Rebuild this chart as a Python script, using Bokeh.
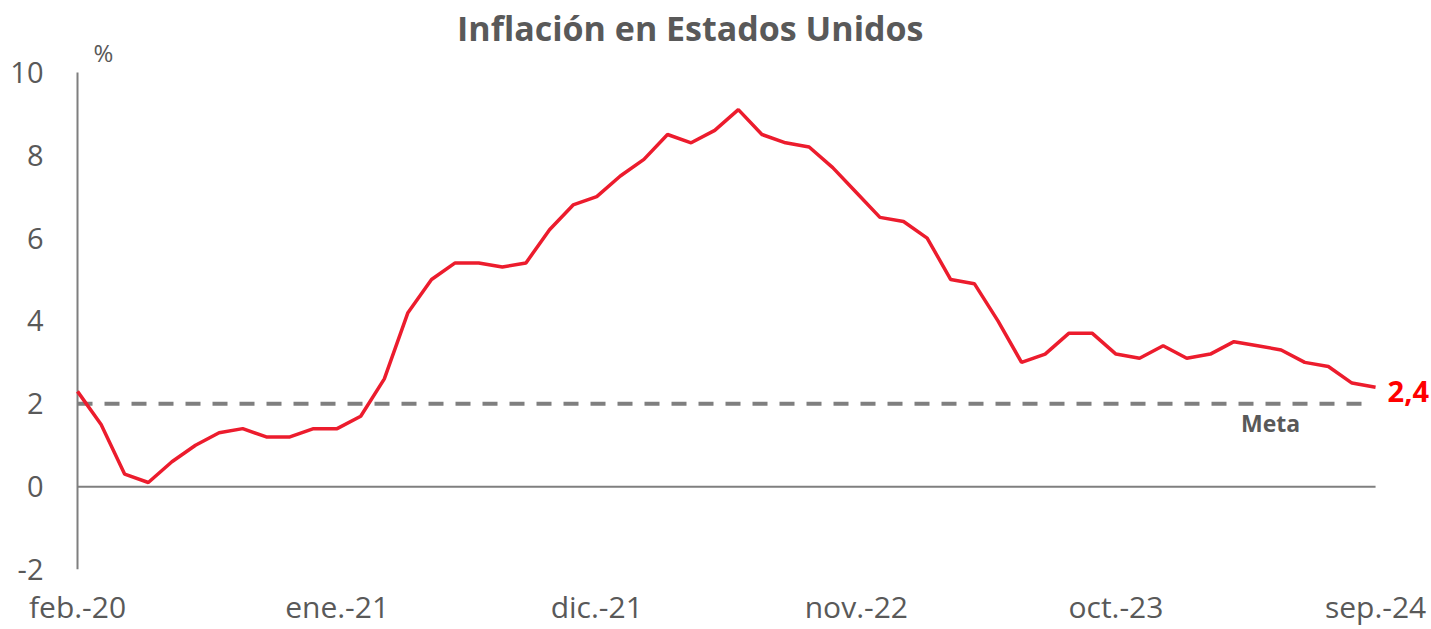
from bokeh.plotting import figure
from bokeh.models import Range1d, FixedTicker, Label, LinearAxis
from bokeh.embed import file_html
from bokeh.resources import INLINE

months = list(range(56))
inflation = [2.3, 1.5, 0.3, 0.1, 0.6, 1.0, 1.3, 1.4, 1.2, 1.2, 1.4,
             1.4, 1.7, 2.6, 4.2, 5.0, 5.4, 5.4, 5.3, 5.4, 6.2, 6.8, 7.0,
             7.5, 7.9, 8.5, 8.3, 8.6, 9.1, 8.5, 8.3, 8.2, 7.7, 7.1, 6.5,
             6.4, 6.0, 5.0, 4.9, 4.0, 3.0, 3.2, 3.7, 3.7, 3.2, 3.1, 3.4,
             3.1, 3.2, 3.5, 3.4, 3.3, 3.0, 2.9, 2.5, 2.4]
meta_value = 2.0
tick_positions = [0, 11, 22, 33, 44, 55]
tick_labels = ["feb.-20", "ene.-21", "dic.-21", "nov.-22", "oct.-23", "sep.-24"]
y_ticks = [-2, 0, 2, 4, 6, 8, 10]
y_min, y_max = -2, 10
title_text = "Inflación en  Estados Unidos"

GREY = "#595959"
AXGREY = "#7f7f7f"
FONT = "Open Sans"

p = figure(width=1431, height=629, output_backend="svg", toolbar_location=None,
           title=None,
           x_range=Range1d(-0.085, 57.37), y_range=Range1d(-2, 11.735),
           x_axis_location=None, y_axis_location=None,
           min_border_left=75, min_border_right=0, min_border_top=0, min_border_bottom=59)
p.grid.visible = False
p.outline_line_color = None
p.background_fill_color = "white"
p.border_fill_color = "white"

yax = LinearAxis(ticker=FixedTicker(ticks=y_ticks))
yax.major_label_overrides = {t: str(t) for t in y_ticks}
yax.axis_line_color = None
yax.major_tick_line_color = None
yax.minor_tick_line_color = None
yax.major_tick_out = 0
yax.major_tick_in = 0
yax.major_label_text_font = FONT
yax.major_label_text_font_size = "29px"
yax.major_label_text_color = GREY
yax.major_label_standoff = 32
p.add_layout(yax, "left")

xax = LinearAxis(ticker=FixedTicker(ticks=tick_positions))
xax.major_label_overrides = {t: l for t, l in zip(tick_positions, tick_labels)}
xax.axis_line_color = None
xax.major_tick_line_color = None
xax.minor_tick_line_color = None
xax.major_tick_out = 0
xax.major_tick_in = 0
xax.major_label_text_font = FONT
xax.major_label_text_font_size = "30px"
xax.major_label_text_color = GREY
xax.major_label_standoff = 16
p.add_layout(xax, "below")

# y axis line and zero line
p.line([months[0], months[0]], [y_min, y_max], line_color=AXGREY, line_width=2)
p.line([months[0], months[-1]], [0, 0], line_color=AXGREY, line_width=2)

# target line
p.line([months[0], months[-1] - 0.2], [meta_value, meta_value], line_color=AXGREY,
       line_width=4, line_dash="15 12")

p.line(months, inflation, line_color="#EC1C2D", line_width=3.5)

p.add_layout(Label(x=26.15, y=11.08, text=title_text, text_align="center",
                   text_baseline="middle", text_font=FONT, text_font_style="bold",
                   text_font_size="34px", text_color=GREY))
p.add_layout(Label(x=1.1, y=10.48, text="%", text_align="center",
                   text_baseline="middle", text_font=FONT,
                   text_font_size="24px", text_color=GREY))
p.add_layout(Label(x=50.55, y=1.54, text="Meta", text_align="center",
                   text_baseline="middle", text_font=FONT, text_font_style="bold",
                   text_font_size="23px", text_color=GREY))
p.add_layout(Label(x=months[-1], y=inflation[-1], x_offset=12, y_offset=-4, text="2,4",
                   text_align="left", text_baseline="middle", text_font=FONT,
                   text_font_style="bold", text_font_size="29px", text_color="#FF0000"))

open("out.html", "w").write(file_html(p, INLINE))
